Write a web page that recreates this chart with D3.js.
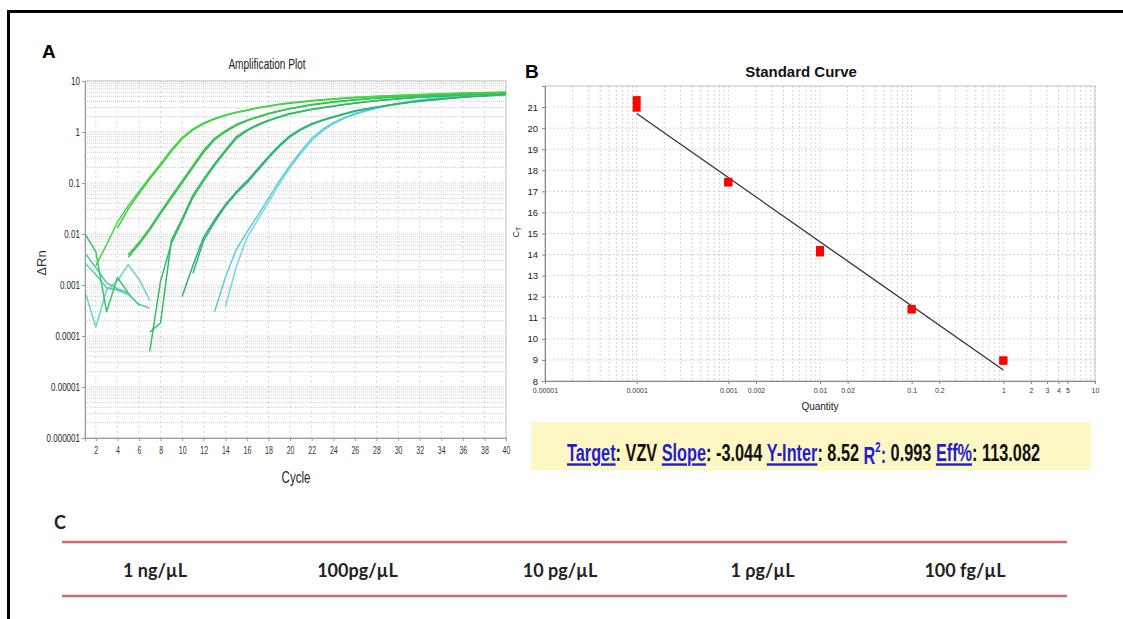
<!DOCTYPE html>
<html>
<head>
<meta charset="utf-8">
<title>VZV qPCR amplification and standard curve</title>
<script src="https://cdn.jsdelivr.net/npm/d3@7"></script>
<style>
body{margin:0;background:#fff;}
svg{display:block;font-family:"Liberation Sans",Arial,sans-serif;}
</style>
</head>
<body>
<svg id="fig" width="1123" height="619"></svg>
<script>
// ---------- panel A : amplification plot (cycle, delta Rn) ----------
var ampYTicks  = [10, 1, 0.1, 0.01, 0.001, 0.0001, 0.00001, 0.000001];
var ampYLabels = ["10","1","0.1","0.01","0.001","0.0001","0.00001","0.000001"];
var ampXTicks  = [2,4,6,8,10,12,14,16,18,20,22,24,26,28,30,32,34,36,38,40];

var ng1a = [[2,0.0024],[3,0.0062],[4,0.017],[5,0.036],[6,0.068],[7,0.13],[8,0.24],[9,0.45],[10,0.78],[11,1.15],[12,1.5],[13,1.85],[14,2.15],[15,2.45],[16,2.7],[17,3.0],[18,3.25],[19,3.5],[20,3.75],[22,4.15],[24,4.5],[26,4.8],[28,5.05],[30,5.25],[32,5.45],[34,5.65],[36,5.8],[38,5.95],[40,6.1]];
var ng1b = [[4,0.013],[5,0.031],[6,0.062],[7,0.12],[8,0.22],[9,0.42],[10,0.74],[11,1.1],[12,1.45],[13,1.8],[14,2.1],[15,2.4],[16,2.65],[17,2.95],[18,3.2],[19,3.45],[20,3.65],[22,4.05],[24,4.4],[26,4.7],[28,4.95],[30,5.15],[32,5.35],[34,5.55],[36,5.7],[38,5.85],[40,5.95]];
var pg100a = [[5,0.0039],[6,0.0068],[7,0.013],[8,0.027],[9,0.055],[10,0.11],[11,0.22],[12,0.44],[13,0.75],[14,1.05],[15,1.4],[16,1.7],[17,2.0],[18,2.3],[19,2.6],[20,2.9],[22,3.45],[24,3.9],[26,4.3],[28,4.65],[30,4.9],[32,5.15],[34,5.35],[36,5.55],[38,5.7],[40,5.85]];
var pg100b = [[5,0.0035],[6,0.0062],[7,0.012],[8,0.025],[9,0.05],[10,0.1],[11,0.2],[12,0.4],[13,0.7],[14,1.0],[15,1.33],[16,1.65],[17,1.95],[18,2.25],[19,2.55],[20,2.85],[22,3.4],[24,3.85],[26,4.25],[28,4.6],[30,4.85],[32,5.1],[34,5.3],[36,5.5],[38,5.65],[40,5.8]];
var pg10a = [[7,0.00012],[8,0.00018],[9,0.0075],[10,0.02],[11,0.058],[12,0.12],[13,0.24],[14,0.44],[15,0.8],[16,1.1],[17,1.4],[18,1.7],[19,2.0],[20,2.3],[22,2.8],[24,3.25],[26,3.7],[28,4.15],[30,4.5],[32,4.85],[34,5.1],[36,5.35],[38,5.55],[40,5.75]];
var pg10b = [[7,0.00005],[8,0.0012],[9,0.0065],[10,0.018],[11,0.052],[12,0.11],[13,0.22],[14,0.41],[15,0.74],[16,1.05],[17,1.35],[18,1.65],[19,1.95],[20,2.25],[22,2.75],[24,3.2],[26,3.65],[28,4.1],[30,4.45],[32,4.8],[34,5.05],[36,5.3],[38,5.5],[40,5.7]];
var pg1a = [[10,0.0006],[11,0.0024],[12,0.0088],[13,0.019],[14,0.038],[15,0.067],[16,0.11],[17,0.19],[18,0.33],[19,0.55],[20,0.85],[21,1.15],[22,1.45],[23,1.72],[24,2.0],[26,2.6],[28,3.1],[30,3.6],[32,4.05],[34,4.45],[36,4.85],[38,5.15],[40,5.45]];
var pg1b = [[11,0.0017],[12,0.0075],[13,0.017],[14,0.035],[15,0.062],[16,0.1],[17,0.175],[18,0.31],[19,0.52],[20,0.8],[21,1.1],[22,1.4],[23,1.68],[24,1.95],[26,2.55],[28,3.05],[30,3.55],[32,4.0],[34,4.4],[36,4.8],[38,5.1],[40,5.4]];
var fg100a = [[13,0.0003],[14,0.0014],[15,0.0049],[16,0.011],[17,0.023],[18,0.05],[19,0.11],[20,0.22],[21,0.42],[22,0.75],[23,1.12],[24,1.52],[25,1.92],[26,2.3],[27,2.65],[28,3.0],[29,3.35],[31,3.95],[33,4.55],[35,4.95],[37,5.3],[40,5.75]];
var fg100b = [[14,0.00037],[15,0.0022],[16,0.0085],[17,0.019],[18,0.042],[19,0.095],[20,0.2],[21,0.38],[22,0.68],[23,1.04],[24,1.44],[25,1.84],[26,2.2],[27,2.55],[28,2.9],[29,3.25],[31,3.85],[33,4.45],[35,4.85],[37,5.2],[40,5.65]];
// baseline noise before the exponential phase
var noiseA = [[1,0.010],[2,0.0045],[3,0.0003],[4,0.0014],[5,0.0007]];
var noiseB = [[1,0.0027],[2,0.0016],[3,0.00088],[4,0.0008],[5,0.00065],[6,0.00042],[7,0.00035]];
var noiseC = [[1,0.00074],[2,0.00015],[3,0.0008],[4,0.0012],[5,0.0025],[6,0.0013],[7,0.0005]];
var noiseD = [[1,0.0042],[2,0.0022],[3,0.0011],[4,0.00085],[5,0.0007],[6,0.0004]];

var ampSeries = [
  {d:noiseC, c:"#6cd0dc"}, {d:noiseB, c:"#58c8c4"}, {d:noiseD, c:"#52c4b0"}, {d:noiseA, c:"#3cc467"},
  {d:fg100b, c:"#74d6e6"}, {d:fg100a, c:"#5ccdde"},
  {d:pg1b, c:"#34b27c"}, {d:pg1a, c:"#2fb274"},
  {d:pg10b, c:"#38bd66"}, {d:pg10a, c:"#30bb5e"},
  {d:pg100b, c:"#3cc456"}, {d:pg100a, c:"#35c44c"},
  {d:ng1b, c:"#3ccd3c"}, {d:ng1a, c:"#48d448"}
];

// ---------- panel B : standard curve ----------
var stdQty = [0.0001, 0.0001, 0.001, 0.001, 0.01, 0.01, 0.1, 0.1, 1, 1];
var stdCt  = [21.33, 20.97, 17.45, 17.42, 14.22, 14.1, 11.42, 11.39, 8.98, 8.96];
var fitSlope = -3.044, fitInter = 8.52, fitR2 = 0.993, fitEff = 113.082;
var fitRange = [0.0001, 1];
var stdXTicks  = [0.00001,0.0001,0.001,0.002,0.01,0.02,0.1,0.2,1,2,3,4,5,10];
var stdXLabels = ["0.00001","0.0001","0.001","0.002","0.01","0.02","0.1","0.2","1","2","3","4","5","10"];
var stdYTicks  = [8,9,10,11,12,13,14,15,16,17,18,19,20,21];

// ---------- panel C : dilution series ----------
var concLabels = ["1 ng/\u00b5L", "100pg/\u00b5L", "10 pg/\u00b5L", "1 \u03c1g/\u00b5L", "100 fg/\u00b5L"];

var svg = d3.select("#fig");
svg.append("rect").attr("width",1123).attr("height",619).attr("fill","#fff");
svg.append("path").attr("d","M8.5,619V11.5H1123").attr("fill","none").attr("stroke","#000").attr("stroke-width",3);

function narrowTicks(sel, sx){
  sel.selectAll(".tick text").each(function(){
    var t = d3.select(this);
    t.attr("transform","scale("+sx+",1)").attr("x", (+t.attr("x")||0)/sx);
  });
}

// ===== panel A =====
var xA = d3.scaleLinear().domain([1,40]).range([85,506]);
var yA = d3.scaleLog().domain([1e-6,10]).range([438,81]);
var gA = svg.append("g");

gA.append("g").selectAll("line").data(yA.ticks()).join("line")
  .attr("x1",85).attr("x2",506).attr("y1",d=>yA(d)).attr("y2",d=>yA(d))
  .attr("stroke","#cfcfcf").attr("stroke-width",1).attr("stroke-dasharray","1,1");
gA.append("g").selectAll("line").data(ampXTicks).join("line")
  .attr("x1",d=>xA(d)).attr("x2",d=>xA(d)).attr("y1",81).attr("y2",438)
  .attr("stroke","#d6d6d6").attr("stroke-dasharray","2,3");
gA.append("rect").attr("x",85).attr("y",81).attr("width",421).attr("height",357)
  .attr("fill","none").attr("stroke","#c4c4c4");

svg.append("clipPath").attr("id","clipA").append("rect").attr("x",85).attr("y",81).attr("width",421).attr("height",357);
var ampLine = d3.line().x(d=>xA(d[0])).y(d=>yA(d[1]));
gA.append("g").attr("clip-path","url(#clipA)").selectAll("path").data(ampSeries).join("path")
  .attr("d",d=>ampLine(d.d)).attr("fill","none").attr("stroke",d=>d.c)
  .attr("stroke-width",1.5).attr("stroke-linejoin","round");

var axA = gA.append("g").attr("transform","translate(85,0)")
  .call(d3.axisLeft(yA).tickValues(ampYTicks).tickFormat((d,i)=>ampYLabels[i]).tickSize(3).tickPadding(2));
axA.selectAll(".tick text").style("font-size","11.5px").attr("fill","#222");
narrowTicks(axA, 0.7);
var axAx = gA.append("g").attr("transform","translate(0,438)")
  .call(d3.axisBottom(xA).tickValues(ampXTicks).tickSize(3).tickPadding(6));
axAx.selectAll(".tick text").style("font-size","10px").attr("fill","#333");
narrowTicks(axAx, 0.7);
gA.selectAll(".domain, .tick line").attr("stroke","#9a9a9a");

gA.append("text").attr("transform","translate(267,69) scale(0.72,1)").attr("text-anchor","middle")
  .style("font-size","14px").attr("fill","#222").text("Amplification Plot");
gA.append("text").attr("transform","translate(296,483) scale(0.72,1)").attr("text-anchor","middle")
  .style("font-size","16px").attr("fill","#222").text("Cycle");
gA.append("text").attr("transform","translate(46,263) rotate(-90)").attr("text-anchor","middle")
  .style("font-size","13px").attr("fill","#333").text("\u0394Rn");
svg.append("text").attr("x",42).attr("y",58).style("font-size","19px").style("font-weight","bold").text("A");

// ===== panel B =====
var xB = d3.scaleLog().domain([1e-5,10]).range([545,1095]);
var yB = d3.scaleLinear().domain([8,22]).range([381,86]);
var gB = svg.append("g");

gB.append("g").selectAll("line").data(xB.ticks()).join("line")
  .attr("x1",d=>xB(d)).attr("x2",d=>xB(d)).attr("y1",86).attr("y2",381)
  .attr("stroke","#d4d4d4").attr("stroke-dasharray","2,2");
gB.append("g").selectAll("line").data(stdYTicks).join("line")
  .attr("x1",545).attr("x2",1095).attr("y1",d=>yB(d)).attr("y2",d=>yB(d))
  .attr("stroke","#d4d4d4").attr("stroke-dasharray","2,2");
gB.append("rect").attr("x",545).attr("y",86).attr("width",550).attr("height",295)
  .attr("fill","none").attr("stroke","#c0c0c0");

var fitLine = d3.line().x(d=>xB(d)).y(d=>yB(fitSlope*Math.log10(d)+fitInter));
gB.append("path").attr("d",fitLine(fitRange)).attr("stroke","#333").attr("stroke-width",1.3).attr("fill","none");
gB.append("g").selectAll("rect").data(stdQty).join("rect")
  .attr("x",d=>xB(d)-4).attr("y",(d,i)=>yB(stdCt[i])-4).attr("width",8).attr("height",8).attr("fill","#ff0000");

var axB = gB.append("g").attr("transform","translate(545,0)")
  .call(d3.axisLeft(yB).tickValues(stdYTicks).tickSize(3).tickPadding(4));
axB.selectAll(".tick text").style("font-size","9.5px").attr("fill","#222");
var axBx = gB.append("g").attr("transform","translate(0,381)")
  .call(d3.axisBottom(xB).tickValues(stdXTicks).tickFormat((d,i)=>stdXLabels[i]).tickSize(3).tickPadding(4));
axBx.selectAll(".tick text").style("font-size","7px").attr("fill","#333");
gB.selectAll(".domain, .tick line").attr("stroke","#888");

var ct = gB.append("text").attr("transform","translate(519,232) rotate(-90)").attr("text-anchor","middle")
  .style("font-size","9px").attr("fill","#333");
ct.append("tspan").text("C");
ct.append("tspan").style("font-size","7px").attr("dy",2).text("T");
gB.append("text").attr("x",820).attr("y",410).attr("text-anchor","middle").style("font-size","10px").attr("fill","#222").text("Quantity");
gB.append("text").attr("x",801).attr("y",77).attr("text-anchor","middle").style("font-size","15px").style("font-weight","bold").attr("fill","#111").text("Standard Curve");
svg.append("text").attr("x",525).attr("y",78).style("font-size","19px").style("font-weight","bold").text("B");

// stats box
svg.append("rect").attr("x",531).attr("y",422).attr("width",560).attr("height",48).attr("fill","#fdf7c4");
var blue = "#1f1fcf";
var st = svg.append("g");
var stt = st.append("text").style("font-size","24px").style("font-weight","bold").attr("fill","#111");
function part(txt, link){
  var t = stt.append("tspan").text(txt);
  if (link) t.attr("fill",blue).style("text-decoration","underline");
  return t;
}
part("Target",true); part(": VZV ");
part("Slope",true); part(": " + fitSlope.toFixed(3) + " ");
part("Y-Inter",true); part(": " + fitInter + " ");
stt.append("tspan").attr("fill",blue).attr("dy",3).text("R");
stt.append("tspan").attr("fill",blue).attr("dy",-12).style("font-size","14px").text("2");
stt.append("tspan").attr("fill",blue).attr("dy",11).text(":");
stt.append("tspan").attr("dy",-2).text(" " + fitR2 + " ");
part("Eff%",true); part(": " + fitEff);
var w = stt.node().getComputedTextLength();
var sx = 473 / w;
st.attr("transform","translate(567,461) scale("+sx+",1)");

// ===== panel C =====
svg.append("text").attr("x",54).attr("y",529).style("font-family","Lato, 'Open Sans', sans-serif")
  .style("font-size","18px").style("font-weight","bold").attr("fill","#222").text("C");
svg.append("g").selectAll("line").data([542,596]).join("line")
  .attr("x1",62).attr("x2",1067).attr("y1",d=>d).attr("y2",d=>d)
  .attr("stroke","#cf6a70").attr("stroke-width",2.5);
var xC = d3.scalePoint().domain(concLabels).range([155,965]);
svg.append("g").selectAll("text").data(concLabels).join("text")
  .attr("x",d=>xC(d)).attr("y",577).attr("text-anchor","middle")
  .style("font-family","Lato, 'Open Sans', sans-serif").style("font-size","18px").style("font-weight","bold")
  .attr("fill","#222").text(d=>d);
</script>
</body>
</html>
